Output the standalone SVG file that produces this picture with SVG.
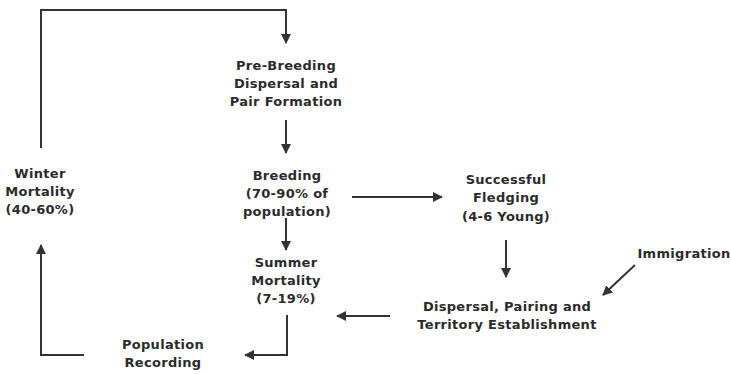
<svg xmlns="http://www.w3.org/2000/svg" width="731" height="374" viewBox="0 0 731 374">
<defs>
<marker id="ah" viewBox="0 0 10 10" refX="9" refY="5" markerWidth="5" markerHeight="5" orient="auto" markerUnits="strokeWidth">
<path d="M0,0 L10,5 L0,10 z" fill="#333"/>
</marker>
<style>
.t{font-family:"DejaVu Sans","Liberation Sans",Arial,sans-serif;font-weight:bold;font-size:13px;letter-spacing:0.3px;fill:#2b2b2b;text-anchor:middle}
.c{fill:none;stroke:#333;stroke-width:2}
</style>
</defs>
<rect width="731" height="374" fill="#fff"/>
<g id="connectors">
<path class="c" d="M41,148 V10 H286 V43" marker-end="url(#ah)"/>
<path class="c" d="M286,120 V153" marker-end="url(#ah)"/>
<path class="c" d="M286,218 V250" marker-end="url(#ah)"/>
<path class="c" d="M352,197 H442" marker-end="url(#ah)"/>
<path class="c" d="M506,240 V277" marker-end="url(#ah)"/>
<path class="c" d="M635,265 L603,295" marker-end="url(#ah)"/>
<path class="c" d="M390,316 H337" marker-end="url(#ah)"/>
<path class="c" d="M287,315 V355 H245" marker-end="url(#ah)"/>
<path class="c" d="M84,355 H41 V245" marker-end="url(#ah)"/>
</g>
<g id="pre-breeding">
<text class="t" x="286" y="70">Pre-Breeding</text>
<text class="t" x="286" y="88">Dispersal and</text>
<text class="t" x="286" y="106">Pair Formation</text>
</g>
<g id="breeding">
<text class="t" x="287" y="180">Breeding</text>
<text class="t" x="287" y="198">(70-90% of</text>
<text class="t" x="287" y="216">population)</text>
</g>
<g id="winter">
<text class="t" x="40" y="178">Winter</text>
<text class="t" x="40" y="196">Mortality</text>
<text class="t" x="40" y="214">(40-60%)</text>
</g>
<g id="summer">
<text class="t" x="286" y="267">Summer</text>
<text class="t" x="286" y="285">Mortality</text>
<text class="t" x="286" y="303">(7-19%)</text>
</g>
<g id="fledging">
<text class="t" x="506" y="184">Successful</text>
<text class="t" x="506" y="202">Fledging</text>
<text class="t" x="506" y="221">(4-6 Young)</text>
</g>
<g id="immigration">
<text class="t" x="684" y="258">Immigration</text>
</g>
<g id="dispersal">
<text class="t" x="507" y="311">Dispersal, Pairing and</text>
<text class="t" x="507" y="329">Territory Establishment</text>
</g>
<g id="recording">
<text class="t" x="163" y="349">Population</text>
<text class="t" x="163" y="367">Recording</text>
</g>
</svg>
